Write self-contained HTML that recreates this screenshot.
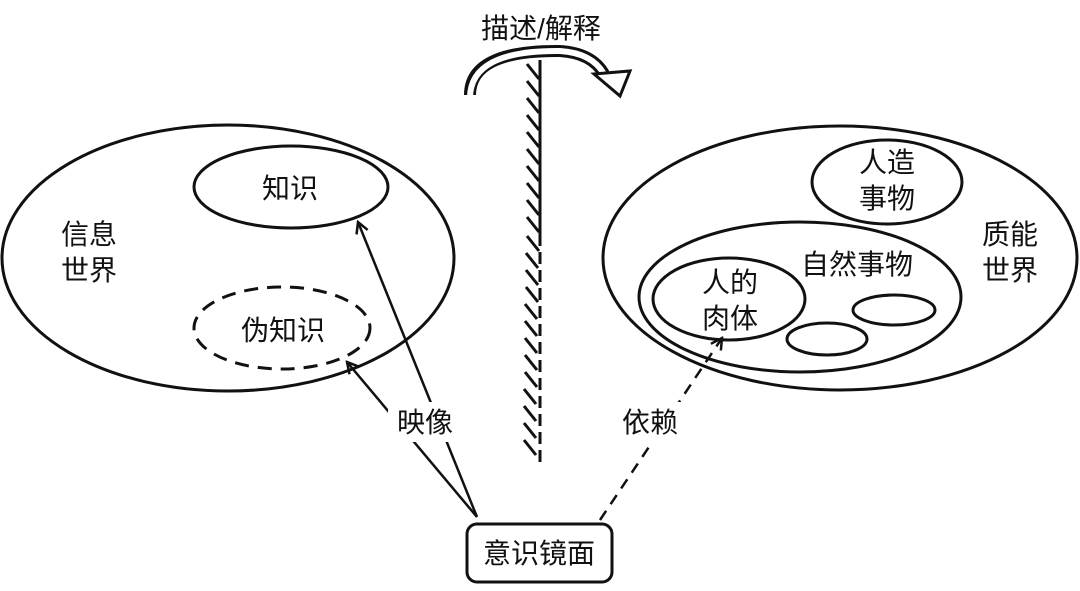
<!DOCTYPE html>
<html><head><meta charset="utf-8"><style>
html,body{margin:0;padding:0;background:#fff;width:1080px;height:591px;overflow:hidden}
svg text{font-family:"Liberation Sans","Noto Sans CJK SC",sans-serif;font-size:28px;fill:#111}
</style></head><body>
<svg width="1080" height="591" viewBox="0 0 1080 591" xmlns="http://www.w3.org/2000/svg">
<defs>
<marker id="ah" markerWidth="14" markerHeight="14" refX="12" refY="7" orient="auto" markerUnits="userSpaceOnUse">
<path d="M1,1 L12,7 L1,13" fill="none" stroke="#111" stroke-width="2.5"/>
</marker>
</defs>
<g fill="none" stroke="#111" stroke-width="3">
<ellipse cx="228" cy="258" rx="226" ry="133"/>
<ellipse cx="291" cy="187" rx="97" ry="41"/>
<ellipse cx="282" cy="328" rx="88" ry="41" stroke-dasharray="14,9"/>
<ellipse cx="840" cy="258" rx="237" ry="132"/>
<ellipse cx="887" cy="182" rx="75" ry="42"/>
<ellipse cx="800" cy="297" rx="161" ry="75"/>
<ellipse cx="729" cy="299" rx="76" ry="41"/>
<ellipse cx="827" cy="339" rx="40" ry="16"/>
<ellipse cx="894" cy="310" rx="41" ry="15"/>
<line x1="540" y1="60" x2="540" y2="234"/>
<line x1="540" y1="234" x2="540" y2="462" stroke-dasharray="12,6"/>
</g>
<g stroke="#111" stroke-width="3">
<path d="M527,64 l12,15 M527,81 l12,15 M527,98 l12,15 M527,115 l12,15 M527,132 l12,15 M527,149 l12,15 M527,166 l12,15 M527,183 l12,15 M527,200 l12,15 M527,217 l12,15 M527,236 l12,15 M526,253 l12,15 M526,270 l12,15 M526,287 l12,15 M525,304 l12,15 M525,321 l12,15 M525,338 l12,15 M525,355 l12,15 M525,372 l12,15 M524,389 l12,15 M524,406 l12,15 M524,423 l12,15 M524,440 l12,15"/>
</g>
<path d="M470,95 Q470,50 560,51 Q592,53 604,74" fill="none" stroke="#111" stroke-width="12"/>
<path d="M470,98 Q470,50 560,51 Q592,53 604,74" fill="none" stroke="#fff" stroke-width="6"/>
<polygon points="594,74 630,71 620,96" fill="#fff" stroke="#111" stroke-width="3"/>
<g fill="none" stroke="#111" stroke-width="2.5">
<line x1="477" y1="517" x2="358" y2="222" marker-end="url(#ah)"/>
<line x1="477" y1="517" x2="347" y2="362" marker-end="url(#ah)"/>
<line x1="600" y1="520" x2="722" y2="338" stroke-dasharray="11,8" marker-end="url(#ah)"/>
</g>
<rect x="388" y="402" width="72" height="40" fill="#fff"/>
<rect x="612" y="402" width="72" height="40" fill="#fff"/>
<rect x="467" y="524" width="145" height="58" rx="10" fill="#fff" stroke="#111" stroke-width="3"/>
<g text-anchor="middle">
<text x="541" y="38">描述/解释</text>
<text x="290" y="198">知识</text>
<text x="283" y="340">伪知识</text>
<text x="89" y="244">信息</text>
<text x="89" y="280">世界</text>
<text x="425" y="432">映像</text>
<text x="650" y="432">依赖</text>
<text x="539" y="563">意识镜面</text>
<text x="887" y="172">人造</text>
<text x="887" y="208">事物</text>
<text x="1010" y="244">质能</text>
<text x="1010" y="280">世界</text>
<text x="857" y="274">自然事物</text>
<text x="730" y="292">人的</text>
<text x="730" y="328">肉体</text>
</g>
</svg>
</body></html>
